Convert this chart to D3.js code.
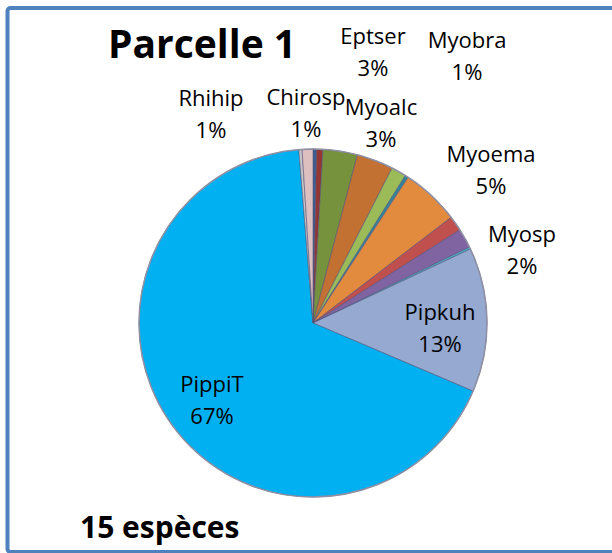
<!DOCTYPE html>
<html>
<head>
<meta charset="utf-8">
<script src="https://cdn.jsdelivr.net/npm/d3@7/dist/d3.min.js"></script>
<style>
  html, body { margin: 0; padding: 0; background: #fff; }
  svg { display: block; }
  text { font-family: "Open Sans", "Noto Sans", sans-serif; fill: #000; }
</style>
</head>
<body>
<svg id="chart" width="612" height="553"></svg>
<script>
// ---- data ----
const species = ["Barbar", "Chirosp", "Eptser", "Myoalc", "Myobra", "Myodau", "Myoema",
                 "Myomys", "Myosp", "Nyclei", "Pipkuh", "PippiT", "Pipnat", "Rhihip"];
const shares  = [0.33, 0.58, 3.2, 3.4, 1.4, 0.3, 5.4, 1.4, 1.8, 0.2, 13.4, 67.3, 0.3, 1.0];
const colors  = ["#3B5F92", "#943634", "#76923C", "#C27133", "#9BBB59", "#31859C", "#E28A3E",
                 "#C0504D", "#8064A2", "#4BACC6", "#95A9D1", "#00B0F0", "#C6C6CA", "#DDBFC0"];
const labelled = ["Chirosp", "Eptser", "Myoalc", "Myobra", "Myoema", "Myosp", "Pipkuh", "PippiT", "Rhihip"];
const title = "Parcelle 1";
const footnote = "15 espèces";

// ---- layout (label anchor positions, as in the reference) ----
const labelAt = {
  Rhihip:  [211, 106], Chirosp: [306, 105], Eptser: [373, 44], Myoalc: [381, 115],
  Myobra:  [467, 48],  Myoema:  [491, 162], Myosp:  [522, 242], Pipkuh: [440, 320],
  PippiT:  [212, 392]
};

const svg = d3.select("#chart");
const cx = 313, cy = 323, R = 174;

// frame
svg.append("rect")
  .attr("x", 7.5).attr("y", 8).attr("width", 612).attr("height", 544)
  .attr("rx", 3).attr("fill", "#fff")
  .attr("stroke", "#4F81BD").attr("stroke-width", 4);

const data = species.map((s, i) => ({ name: s, value: shares[i], color: colors[i] }));
const total = d3.sum(data, d => d.value);

const pie = d3.pie().value(d => d.value).sort(null)
  .startAngle(0).endAngle(2 * Math.PI);
const arc = d3.arc().innerRadius(0).outerRadius(R);

const g = svg.append("g").attr("transform", `translate(${cx},${cy})`);
g.selectAll("path.slice")
  .data(pie(data))
  .join("path")
  .attr("class", "slice")
  .attr("d", arc)
  .attr("fill", d => d.data.color)
  .attr("stroke", "rgba(80,80,120,0.55)")
  .attr("stroke-width", 1)
  .attr("stroke-linejoin", "round");

// outer rim
g.append("circle").attr("r", R).attr("fill", "none")
  .attr("stroke", "#9090A4").attr("stroke-width", 1.5);

// labels
const fmt = v => Math.round(v / total * 100) + "%";
const lab = svg.append("g");
data.filter(d => labelled.includes(d.name)).forEach(d => {
  const [x, y] = labelAt[d.name];
  const t = lab.append("text").attr("text-anchor", "middle")
    .attr("font-size", 22);
  t.append("tspan").attr("x", x).attr("y", y).text(d.name);
  t.append("tspan").attr("x", x).attr("y", y + 32).text(fmt(d.value));
});

// title & footnote
svg.append("text").attr("x", 108).attr("y", 58)
  .attr("font-size", 39).attr("font-weight", "bold").text(title);
svg.append("text").attr("x", 80).attr("y", 538)
  .attr("font-size", 30).attr("font-weight", "bold").text(footnote);
</script>
</body>
</html>
